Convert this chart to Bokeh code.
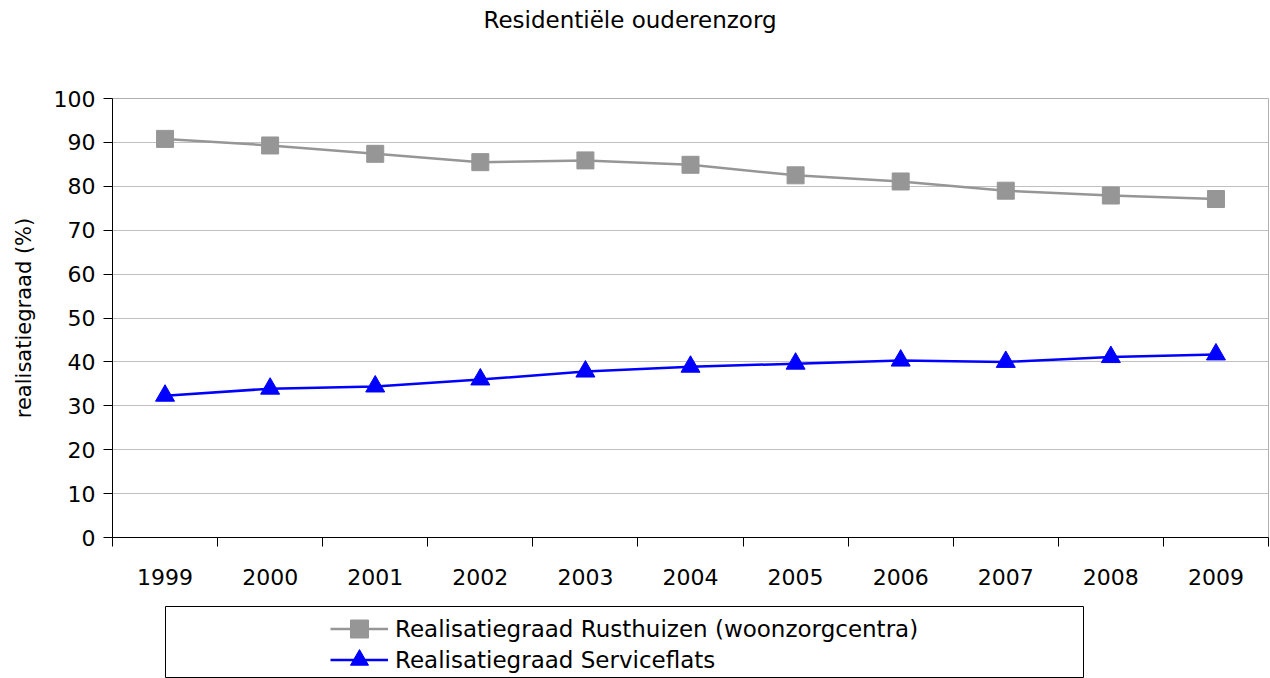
from bokeh.plotting import figure
from bokeh.layouts import column
from bokeh.models import (FixedTicker, Legend, LegendItem, Title, CustomJSTickFormatter)
from bokeh.embed import file_html
from bokeh.resources import INLINE

years = ["1999", "2000", "2001", "2002", "2003", "2004", "2005", "2006", "2007", "2008", "2009"]
rusthuizen = [90.8, 89.3, 87.4, 85.5, 85.9, 84.9, 82.5, 81.1, 79.0, 77.9, 77.1]
serviceflats = [32.3, 33.9, 34.4, 36.0, 37.8, 38.9, 39.6, 40.3, 40.0, 41.1, 41.7]
y_ticks = [0, 10, 20, 30, 40, 50, 60, 70, 80, 90, 100]
title_text = "Residentiële ouderenzorg"
y_label = "realisatiegraad (%)"
name1 = "Realisatiegraad Rusthuizen (woonzorgcentra)"
name2 = "Realisatiegraad Serviceflats"

FONT = "DejaVu Sans"
gray = "#969696"
blue = "#0000ff"
n = len(years)
xs = [i + 0.5 for i in range(n)]

# title strip
t = figure(width=1270, height=45, output_backend="svg", toolbar_location=None,
           x_axis_type=None, y_axis_type=None, frame_align=False,
           x_range=(0, 1), y_range=(0, 1),
           min_border_left=0, min_border_right=0, min_border_top=32,
           min_border_bottom=0)
t.outline_line_color = None
t.grid.visible = False
t.title = Title(text=title_text, align="left", offset=483, standoff=0,
                text_font=FONT, text_font_size="23px", text_font_style="normal",
                text_color="#000000")

# main chart
p = figure(width=1270, height=552, x_range=(0, n), y_range=(0, 100),
           output_backend="svg", toolbar_location=None, frame_align=False,
           min_border_left=112, min_border_right=2, min_border_top=53,
           min_border_bottom=60)

p.outline_line_color = "#b0b0b0"
p.xgrid.grid_line_color = None
p.ygrid.grid_line_color = "#c0c0c0"
p.ygrid.ticker = FixedTicker(ticks=y_ticks)

# x axis: labels at category centres, tick marks at category boundaries
p.xaxis.ticker = FixedTicker(ticks=xs, minor_ticks=list(range(n + 1)))
p.xaxis.formatter = CustomJSTickFormatter(args=dict(labels=years),
                                          code="return labels[Math.floor(tick)];")
p.xaxis.minor_tick_out = 9
p.xaxis.minor_tick_in = 0
p.xaxis.minor_tick_line_color = "#000000"
p.xaxis.major_label_standoff = 22

p.yaxis.ticker = FixedTicker(ticks=y_ticks)
p.yaxis.major_tick_out = 9
p.yaxis.major_tick_in = 0
p.yaxis.minor_tick_line_color = None
p.yaxis.major_label_standoff = 8
p.yaxis.axis_label = y_label
p.yaxis.axis_label_standoff = 15

for ax in (p.xaxis, p.yaxis):
    ax.axis_line_color = "#000000"
    ax.major_label_text_font = FONT
    ax.major_label_text_font_size = "22px"
    ax.major_label_text_color = "#000000"
    ax.axis_label_text_font = FONT
    ax.axis_label_text_font_size = "21px"
    ax.axis_label_text_font_style = "normal"
    ax.axis_label_text_color = "#000000"
p.yaxis.major_tick_line_color = "#000000"
p.xaxis.major_tick_line_color = None

p.line(xs, rusthuizen, line_color=gray, line_width=2.5)
p.scatter(xs, rusthuizen, marker="square", size=17, fill_color=gray, line_color=gray)
p.line(xs, serviceflats, line_color=blue, line_width=2.5)
p.scatter(xs, serviceflats, marker="triangle", size=19, fill_color=blue, line_color=blue)

# legend panel: its frame outline is the legend box
q = figure(width=1270, height=81, output_backend="svg", toolbar_location=None,
           x_axis_type=None, y_axis_type=None, frame_align=False,
           x_range=(0, 1), y_range=(0, 1),
           min_border_left=165, min_border_right=187, min_border_top=9,
           min_border_bottom=1)
q.outline_line_color = "#000000"
q.outline_line_width = 1
q.grid.visible = False
# off-range copies of the series styles, used only as legend glyphs
off = dict(x=[-5, -4], y=[-5, -4])
ql1 = q.line(x=off["x"], y=off["y"], line_color=gray, line_width=2.5)
qs1 = q.scatter(x=off["x"], y=off["y"], marker="square", size=17, fill_color=gray, line_color=gray)
ql2 = q.line(x=off["x"], y=off["y"], line_color=blue, line_width=2.5)
qs2 = q.scatter(x=off["x"], y=off["y"], marker="triangle", size=19, fill_color=blue, line_color=blue)

legend_style = dict(glyph_width=58, glyph_height=45, label_height=45, label_standoff=7,
                    spacing=0, padding=0, margin=0, border_line_color=None,
                    background_fill_alpha=0, label_text_font=FONT,
                    label_text_font_size="23px", label_text_color="#000000")
leg1 = Legend(items=[LegendItem(label=name1, renderers=[ql1, qs1])],
              location=(165, 26), **legend_style)
leg2 = Legend(items=[LegendItem(label=name2, renderers=[ql2, qs2])],
              location=(165, -5), **legend_style)
q.add_layout(leg1, "center")
q.add_layout(leg2, "center")

layout = column(t, p, q, spacing=0)
open("out.html", "w").write(file_html(layout, INLINE))
